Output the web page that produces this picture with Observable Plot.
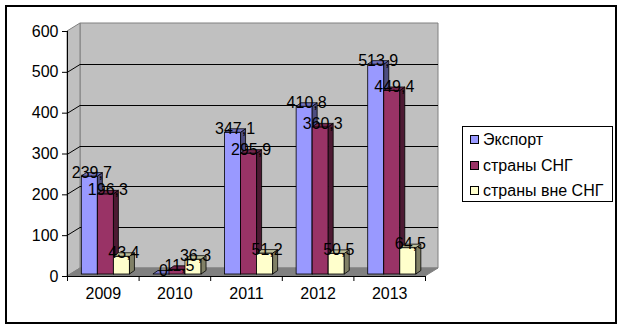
<!DOCTYPE html>
<html><head><meta charset="utf-8">
<script src="https://cdn.jsdelivr.net/npm/d3@7"></script>
<script src="https://cdn.jsdelivr.net/npm/@observablehq/plot@0.6"></script>
<style>
html,body{margin:0;padding:0;background:#fff;}
#wrap{position:relative;width:625px;height:330px;font-family:"Liberation Sans",Arial,sans-serif;}
#frame{position:absolute;left:5px;top:5px;width:612px;height:319px;border:2px solid #000;box-sizing:border-box;pointer-events:none;}
#legend{position:absolute;left:462px;top:126px;width:151px;height:76px;border:1px solid #000;box-sizing:border-box;background:#fff;font-size:16px;color:#000;}
#legend .row{position:absolute;left:7px;height:20px;line-height:20px;white-space:nowrap;}
#legend .sw{display:inline-block;width:7px;height:7px;border:1px solid #000;margin-right:4px;vertical-align:1px;}
#chart{position:absolute;left:0;top:0;}
</style></head>
<body>
<div id="wrap"><div id="chart"></div><div id="frame"></div><div id="legend"></div></div>
<script>
const years = ["2009", "2010", "2011", "2012", "2013"];
const seriesNames = ["Экспорт", "страны СНГ", "страны вне СНГ"];
const exportValues = [239.7, 0, 347.1, 410.8, 513.9];
const cisValues = [196.3, 11.5, 295.9, 360.3, 449.4];
const nonCisValues = [43.4, 36.3, 51.2, 50.5, 64.5];
const yTicks = [0, 100, 200, 300, 400, 500, 600];

const frontColors = ["#9999FF", "#993366", "#FFFFCC"];
const sideColors = ["#4D4D80", "#4D1A33", "#808066"];
const topColors = ["#7373BF", "#73264D", "#BFBF99"];

const seriesValues = [exportValues, cisValues, nonCisValues];
const data = [];
seriesValues.forEach((vals, s) => vals.forEach((v, i) => data.push({year: years[i], i, s, series: seriesNames[s], value: v})));

// layout constants (band units / pixels)
const inset = 0.2, barW = 0.224;
const wallDX = 13, wallDY = -8;   // depth of the 3D box
const barDX = 5, barDY = -3.5;    // depth of each column
const barLift = -2;               // column front sits slightly behind the front plane

const fmt = v => String(v).replace(".", ",");

function walls(index, scales) {
  const {x, y} = scales;
  const X0 = x(0), X5 = x(5), Y0 = y(0), Yt = y(600);
  const g = d3.create("svg:g");
  const poly = (pts, fill, stroke) => g.append("polygon").attr("points", pts.map(p => p.join(",")).join(" ")).attr("fill", fill).attr("stroke", stroke).attr("stroke-width", 1);
  poly([[X0 + wallDX, Yt + wallDY], [X5 + wallDX, Yt + wallDY], [X5 + wallDX, Y0 + wallDY], [X0 + wallDX, Y0 + wallDY]], "#C0C0C0", "#808080");
  poly([[X0, Yt], [X0 + wallDX, Yt + wallDY], [X0 + wallDX, Y0 + wallDY], [X0, Y0]], "#C0C0C0", "#808080");
  poly([[X0, Y0], [X5, Y0], [X5 + wallDX, Y0 + wallDY], [X0 + wallDX, Y0 + wallDY]], "#808080", "#808080");
  for (const t of yTicks) {
    if (t === 0 || t === 600) continue;
    const yy = Math.round(y(t)) + 0.5;
    g.append("path").attr("d", `M${X0},${yy}L${X0 + wallDX},${yy + wallDY}L${X5 + wallDX},${yy + wallDY}`).attr("fill", "none").attr("stroke", "#000").attr("stroke-width", 1);
  }
  return g.node();
}

function barFaces(s) {
  return (index, scales) => {
    const {x, y} = scales;
    const g = d3.create("svg:g").attr("stroke", "#000").attr("stroke-width", 0.8).attr("stroke-linejoin", "round");
    data.filter(d => d.s === s).forEach(d => {
      const X1 = x(d.i + inset + s * barW), X2 = x(d.i + inset + (s + 1) * barW);
      const Yb = y(0) + barLift, Yt = y(d.value) + barLift;
      const poly = (pts, fill) => g.append("polygon").attr("points", pts.map(p => p.join(",")).join(" ")).attr("fill", fill);
      poly([[X2, Yt], [X2 + barDX, Yt + barDY], [X2 + barDX, Yb + barDY], [X2, Yb]], sideColors[s]);
      poly([[X1, Yt], [X2, Yt], [X2 + barDX, Yt + barDY], [X1 + barDX, Yt + barDY]], topColors[s]);
    });
    return g.node();
  };
}

const marks = [walls];
for (let s = 0; s < 3; s++) {
  marks.push(Plot.rect(data.filter(d => d.s === s), {
    x1: d => d.i + inset + d.s * barW,
    x2: d => d.i + inset + (d.s + 1) * barW,
    y1: 0, y2: "value",
    dy: barLift,
    fill: frontColors[s], stroke: "#000", strokeWidth: 0.8
  }));
  marks.push(barFaces(s));
}
marks.push(
  Plot.ruleX([0], {y1: 0, y2: 600, stroke: "#000"}),
  Plot.ruleY([0], {x1: 0, x2: 5, stroke: "#000"}),
  Plot.axisY({ticks: yTicks, tickSize: 5, tickPadding: 4, tickFormat: d => String(d), stroke: "#000", fill: "#000", label: null}),
  Plot.axisX({ticks: [0, 1, 2, 3, 4, 5], tickSize: 5, tickFormat: () => "", stroke: "#000", label: null}),
  Plot.axisX({ticks: years.map((_, i) => i + 0.5), tickSize: 0, tickPadding: 11, tickFormat: v => years[Math.floor(v)], fill: "#000", label: null}),
  Plot.text(data, {
    x: d => d.i + inset + (d.s + 0.5) * barW,
    y: "value",
    text: d => fmt(d.value),
    dx: 2, dy: -6,
    fill: "#000", fontSize: 16
  })
);

const chart = Plot.plot({
  width: 625, height: 330,
  marginLeft: 67, marginRight: 200, marginTop: 31, marginBottom: 54,
  x: {type: "linear", domain: [0, 5], label: null},
  y: {domain: [0, 600], label: null},
  style: {fontSize: "16px", fontFamily: "'Liberation Sans', Arial, sans-serif", color: "#000", background: "transparent", overflow: "visible"},
  marks
});
document.getElementById("chart").appendChild(chart);

const legend = document.getElementById("legend");
seriesNames.forEach((name, s) => {
  const row = document.createElement("div");
  row.className = "row";
  row.style.top = (3 + s * 25.5) + "px";
  const sw = document.createElement("span");
  sw.className = "sw";
  sw.style.background = frontColors[s];
  row.appendChild(sw);
  row.appendChild(document.createTextNode(name));
  legend.appendChild(row);
});
</script>
</body></html>
